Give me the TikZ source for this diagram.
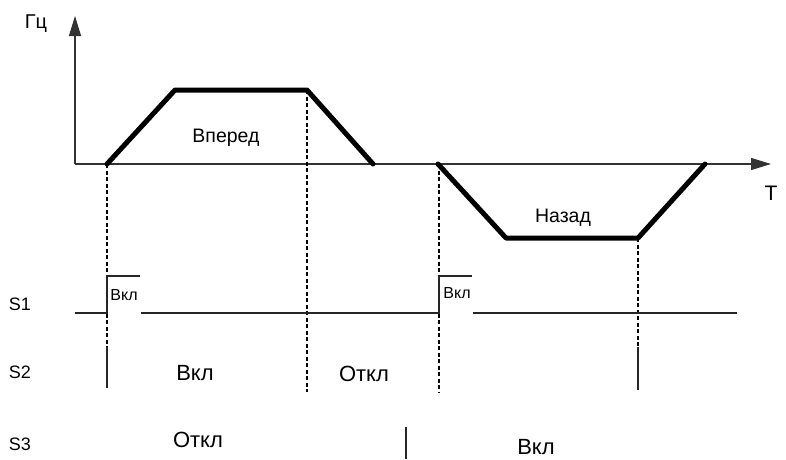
\documentclass[tikz,border=0pt]{standalone}
\usepackage{fontspec}
\setmainfont{Liberation Sans}
\usetikzlibrary{arrows.meta}
\begin{document}
\begin{tikzpicture}[x=1pt,y=-1pt,
  axis/.style={line width=1.3pt,draw=black!80,-{Triangle[length=20pt,width=12pt]}},
  curve/.style={line width=5pt,line join=round,line cap=round},
  guide/.style={line width=1.1pt,dash pattern=on 4pt off 2.5pt},
  sig/.style={line width=1.3pt,draw=black!85},
  lbl/.style={inner sep=0pt,anchor=base,font=\fontsize{18}{18}\selectfont},
  big/.style={inner sep=0pt,anchor=base,font=\fontsize{22}{22}\selectfont},
  mid/.style={inner sep=0pt,anchor=base,font=\fontsize{19.5}{19.5}\selectfont},
  small/.style={inner sep=0pt,anchor=base,font=\fontsize{16}{16}\selectfont}]
\useasboundingbox[fill=white] (0,0) rectangle (786,459);
% coordinates
\coordinate (O) at (75,164);
\coordinate (Ytop) at (75,16);
\coordinate (Xend) at (771,164);
\coordinate (f0) at (107,164);
\coordinate (f1) at (175,90);
\coordinate (f2) at (307,90);
\coordinate (f3) at (373,164);
\coordinate (r0) at (438,164);
\coordinate (r1) at (506,238);
\coordinate (r2) at (638,238);
\coordinate (r3) at (705,164);
% axes
\draw[axis] (O) -- (Ytop);
\draw[axis] (O) -- (Xend);
% curves
\draw[curve] (f0) -- (f1) -- (f2) -- (f3);
\draw[curve] (r0) -- (r1) -- (r2) -- (r3);
% dashed guides
\coordinate (g3t) at (439,164);
\coordinate (g1b) at (107,347);
\coordinate (g2b) at (307,392);
\coordinate (g3b) at (439,392);
\coordinate (g4b) at (638,347);
\draw[guide] (f0) -- (g1b);
\draw[guide] (f2) -- (g2b);
\draw[guide] (g3t) -- (g3b);
\draw[guide] (r2) -- (g4b);
% S2 solid marks
\coordinate (s2a) at (107,388);
\coordinate (s2b) at (638,390);
\draw[sig] (g1b) -- (s2a);
\draw[sig] (g4b) -- (s2b);
% S1 signal
\coordinate (a0) at (75,313);
\coordinate (a1) at (107,313);
\coordinate (a2) at (107,276);
\coordinate (a3) at (140,276);
\coordinate (a4) at (141,313);
\coordinate (a5) at (439,313);
\coordinate (a6) at (439,276);
\coordinate (a7) at (472,276);
\coordinate (a8) at (473,313);
\coordinate (a9) at (737,313);
\draw[sig] (a0) -- (a1) -- (a2) -- (a3);
\draw[sig] (a4) -- (a5) -- (a6) -- (a7);
\draw[sig] (a8) -- (a9);
% S3 separator
\coordinate (s3a) at (406,427);
\coordinate (s3b) at (406,459);
\draw[sig] (s3a) -- (s3b);
% labels
\node[mid,font=\fontsize{20}{20}\selectfont] (hz) at (36,28) {Гц};
\node[lbl,font=\fontsize{21}{21}\selectfont] (t) at (771,200) {T};
\node[mid] (fwd) at (226,142) {Вперед};
\node[mid] (bwd) at (563,222) {Назад};
\node[lbl] (S1) at (20,310) {S1};
\node[lbl] (S2) at (20,378) {S2};
\node[lbl] (S3) at (20,450) {S3};
\node[small] (p1) at (124,300) {Вкл};
\node[small] (p2) at (457,298) {Вкл};
\node[big] (on2) at (195,380) {Вкл};
\node[big] (off2) at (364,381) {Откл};
\node[big] (off3) at (198,447) {Откл};
\node[big] (on3) at (536,454) {Вкл};
\end{tikzpicture}
\end{document}
